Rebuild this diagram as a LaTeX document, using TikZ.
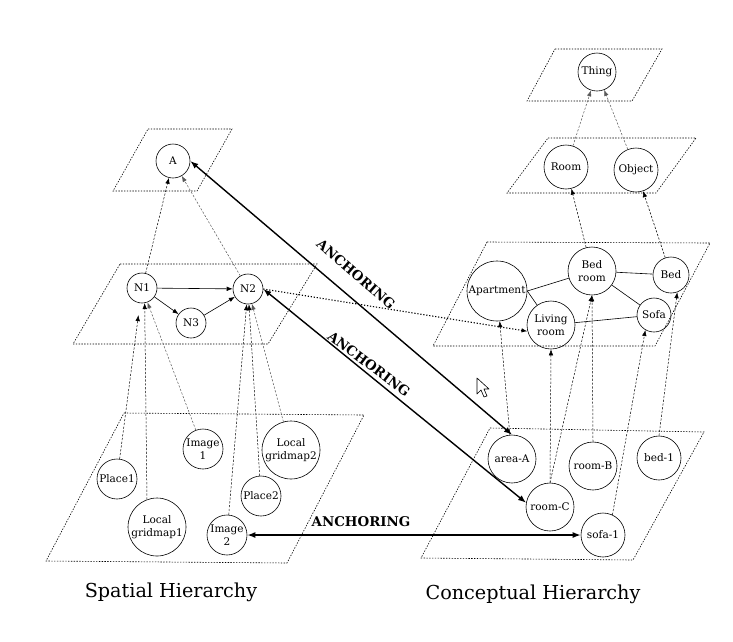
\documentclass[tikz,border=0pt]{standalone}
\usepackage{fontspec}
\setmainfont{DejaVu Serif}
\usetikzlibrary{arrows.meta}
\begin{document}
\begin{tikzpicture}[x=1pt,y=-1pt,
  plane/.style={draw, line width=0.6pt, dash pattern=on 1.4pt off 1.4pt},
  nd/.style={circle, draw, line width=0.6pt, inner sep=0pt, align=center, font=\fontsize{10.5}{13}\selectfont},
  hier/.style={draw, line width=0.5pt, dash pattern=on 2.2pt off 1.6pt, -{Latex[length=6pt,width=4.5pt]}},
  ghier/.style={hier, draw=black!65},
  rel/.style={draw, line width=0.6pt},
  relarr/.style={rel, -{Latex[length=6pt,width=4.5pt]}},
  anch/.style={draw, line width=1.4pt, {Latex[length=8pt,width=6pt]}-{Latex[length=8pt,width=6pt]}},
  anchlab/.style={font=\fontsize{13.4}{15}\bfseries\selectfont, inner sep=1pt},
  title/.style={font=\fontsize{19.2}{22}\selectfont}]
\useasboundingbox (0,0) rectangle (733,641);
% planes
\draw[plane] (148,129) -- (232,129) -- (197,191) -- (113,191) -- cycle;
\draw[plane] (120,264) -- (317,264) -- (268,344) -- (73,344) -- cycle;
\draw[plane] (124,413) -- (364,415) -- (287,563) -- (46,561) -- cycle;
\draw[plane] (555,49) -- (662,49) -- (632,101) -- (527,101) -- cycle;
\draw[plane] (548,138) -- (696,138) -- (656,193) -- (507,193) -- cycle;
\draw[plane] (487,242) -- (710,243) -- (655,346) -- (433,346) -- cycle;
\draw[plane] (490,428) -- (704,432) -- (633,560) -- (421,558) -- cycle;
% spatial nodes
\node[nd, minimum size=34pt] (A) at (173,161) {A};
\node[nd, minimum size=30pt] (N1) at (142,288) {N1};
\node[nd, minimum size=30pt] (N2) at (248,289) {N2};
\node[nd, minimum size=30pt] (N3) at (191,323) {N3};
\node[nd, minimum size=40pt] (Place1) at (117,479) {Place1};
\node[nd, minimum size=58pt] (LG1) at (157,527) {Local\\gridmap1};
\node[nd, minimum size=40pt] (Image1) at (203,449) {Image\\1};
\node[nd, minimum size=58pt] (LG2) at (291,450) {Local\\gridmap2};
\node[nd, minimum size=40pt] (Place2) at (261,496) {Place2};
\node[nd, minimum size=40pt] (Image2) at (227,535) {Image\\2};
% conceptual nodes
\node[nd, minimum size=38pt] (Thing) at (597,72) {Thing};
\node[nd, minimum size=44pt] (Room) at (566,167) {Room};
\node[nd, minimum size=44pt] (Object) at (636,170) {Object};
\node[nd, minimum size=60pt] (Apartment) at (497,291) {Apartment};
\node[nd, minimum size=48pt] (Bedroom) at (592,271) {Bed\\room};
\node[nd, minimum size=36pt] (Bed) at (671,275) {Bed};
\node[nd, minimum size=48pt] (Living) at (551,325) {Living\\room};
\node[nd, minimum size=34pt] (Sofa) at (654,315) {Sofa};
\node[nd, minimum size=48pt] (areaA) at (512,459) {area-A};
\node[nd, minimum size=48pt] (roomB) at (593,466) {room-B};
\node[nd, minimum size=44pt] (bed1) at (659,458) {bed-1};
\node[nd, minimum size=48pt] (roomC) at (550,507) {room-C};
\node[nd, minimum size=44pt] (sofa1) at (603,535) {sofa-1};
% spatial edges
\draw[hier] (N1) -- (A);
\draw[ghier] (N2) -- (A);
\draw[relarr] (N1) -- (N2);
\draw[relarr] (N1) -- (N3);
\draw[relarr] (N3) -- (N2);
\draw[hier, shorten >=12pt] (Place1) -- (N1);
\draw[hier] (LG1.110) -- (N1.280);
\draw[ghier] (Image1) -- (N1);
\draw[hier] (Image2) -- (N2);
\draw[hier] (Place2) -- (N2);
\draw[ghier] (LG2) -- (N2);
% conceptual edges
\draw[ghier] (Room) -- (Thing);
\draw[ghier] (Object) -- (Thing);
\draw[hier] (Bedroom) -- (Room);
\draw[hier] (Bed) -- (Object);
\draw[rel] (Apartment.east) -- (Bedroom);
\draw[rel] (Apartment.east) -- (Living);
\draw[rel] (Bedroom) -- (Bed);
\draw[rel] (Bedroom) -- (Sofa);
\draw[rel] (Living) -- (Sofa);
\draw[hier] (areaA) -- (Apartment);
\draw[hier] (roomC.north) -- (Living.south);
\draw[hier] (roomC.north) -- (Bedroom.south);
\draw[hier] (roomB.north) -- (Bedroom.south);
\draw[hier] (sofa1.65) -- (Sofa.240);
\draw[hier] (bed1.north) -- (Bed.290);
% anchoring
\draw[line width=1.1pt, dash pattern=on 1.2pt off 1.8pt, -{Latex[length=6pt,width=4.5pt]}] (N2.east) -- (Living.195);
\draw[anch] (A.east) -- (areaA.north);
\draw[anch] (N2.east) -- (roomC.170);
\draw[anch] (Image2.east) -- (sofa1.west);
\node[anchlab, rotate=-41] (lab1) at (356,274) {ANCHORING};
\node[anchlab, rotate=-37] (lab2) at (369,364) {ANCHORING};
\node[anchlab] (lab3) at (361,522) {ANCHORING};
% titles
\node[title] (t1) at (171,592) {Spatial Hierarchy};
\node[title] (t2) at (533,594) {Conceptual Hierarchy};
% cursor
\draw[fill=white, line width=0.6pt, line join=round] (477,378) -- (477,394) -- (481,390) -- (484,397) -- (487,396) -- (484,389) -- (489,389) -- cycle;
\end{tikzpicture}
\end{document}
